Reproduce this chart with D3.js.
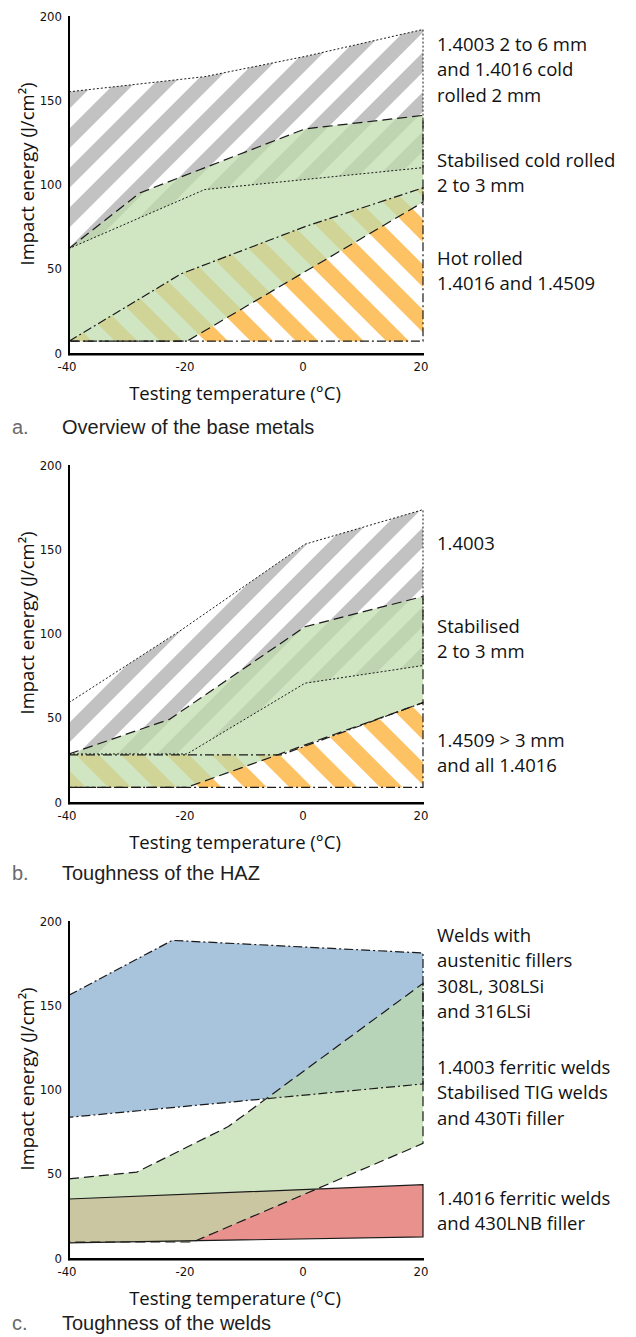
<!DOCTYPE html>
<html><head><meta charset="utf-8">
<script src="https://cdn.jsdelivr.net/npm/d3@7"></script>
<style>body{margin:0;background:#fff} svg{display:block}</style>
</head><body><svg id="c" width="636" height="1337"></svg>
<script>
// ---------- shared axis data ----------
const xTicks = [-40, -20, 0, 20];
const yTicks = [0, 50, 100, 150, 200];
const xTitle = "Testing temperature (°C)";
const yTitle = "Impact energy (J/cm²)";

// ---------- panel a: overview of the base metals ----------
const aGrayUpper   = [[-40,155],[-17,164],[0,176],[20,192]];
const aGrayLower   = [[-40,62],[-17,97],[20,110]];
const aGreenUpper  = [[-40,62],[-28,95],[0,133],[20,141]];
const aGreenLower  = [[-40,7],[-20,7],[20,89.5]];
const aOrangeUpper = [[-40,7],[-21,47],[0,75],[20,98]];
const aOrangeLower = [[-40,7],[20,7]];
const aLabels = [["1.4003 2 to 6 mm","and 1.4016 cold","rolled 2 mm"],["Stabilised cold rolled","2 to 3 mm"],["Hot rolled","1.4016 and 1.4509"]];
const aCaption = ["a.", "Overview of the base metals"];

// ---------- panel b: toughness of the HAZ ----------
const bGrayUpper   = [[-40,59],[-21,102],[0,153],[20,173.5]];
const bGrayLower   = [[-40,28.5],[-20,28.5],[0,70.5],[20,81]];
const bGreenUpper  = [[-40,28.5],[-23,49],[0,104],[20,122]];
const bGreenLower  = [[-40,8.7],[-20,8.7],[20,59]];
const bOrangeUpper = [[-40,28],[-4,28],[20,59]];
const bOrangeLower = [[-40,8.7],[20,8.7]];
const bLabels = [["1.4003"],["Stabilised","2 to 3 mm"],["1.4509 > 3 mm","and all 1.4016"]];
const bCaption = ["b.", "Toughness of the HAZ"];

// ---------- panel c: toughness of the welds ----------
const cBlueUpper  = [[-40,156],[-22.5,188.5],[20,181]];
const cBlueLower  = [[-40,83.5],[20,103.3]];
const cGreenUpper = [[-40,47],[-28.5,51],[-13,78],[20,163]];
const cGreenLower = [[-40,9.5],[-19,9.5],[20,68]];
const cRedUpper   = [[-40,35],[20,43.5]];
const cRedLower   = [[-40,9],[20,12.5]];
const cLabels = [["Welds with","austenitic fillers","308L, 308LSi","and 316LSi"],["1.4003 ferritic welds","Stabilised TIG welds","and 430Ti filler"],["1.4016 ferritic welds","and 430LNB filler"]];
const cCaption = ["c.", "Toughness of the welds"];

// ---------- styles ----------
const LABEL_FONT = "'Open Sans','Noto Sans',sans-serif";
const TICK_FONT = "'Liberation Sans Narrow','DejaVu Sans Condensed',sans-serif";
const CAP_FONT = "'Liberation Sans',Arial,sans-serif";
const dashes = { dotted: "2,2", dashed: "10,5", dashdot: "9,3,2,3", solid: null };

const svg = d3.select("#c");
const defs = svg.append("defs");
function stripes(id, color, period, angle) {
  const p = defs.append("pattern").attr("id", id).attr("patternUnits", "userSpaceOnUse")
    .attr("width", period).attr("height", period)
    .attr("patternTransform", `rotate(${angle})`);
  p.append("rect").attr("width", period / 2).attr("height", period).attr("fill", color);
}
stripes("grayHatch", "#c2c2c2", 28, 45);
stripes("orangeHatch", "#fdc263", 32, -45);

const x = d3.scaleLinear().domain([-40, 20]).range([69, 423]);

function panel(cfg) {
  const y = d3.scaleLinear().domain([0, 200]).range([cfg.y0, cfg.y0 - 337]);
  const g = svg.append("g");
  const line = d3.line().x(d => x(d[0])).y(d => y(d[1])).curve(d3.curveLinearClosed);
  const poly = r => r.upper.concat(r.lower.slice().reverse());

  cfg.regions.forEach(r => {
    g.append("path").attr("d", line(poly(r)))
      .attr("fill", r.fill).attr("fill-opacity", r.opacity || 1).attr("stroke", "none");
  });
  cfg.regions.forEach(r => {
    g.append("path").attr("d", line(poly(r)))
      .attr("fill", "none").attr("stroke", "#1a1a1a")
      .attr("stroke-width", r.style === "dotted" ? 1 : 1.2)
      .attr("stroke-dasharray", dashes[r.style]);
  });

  // axes
  g.append("line").attr("x1", x(-40)).attr("x2", x(-40))
    .attr("y1", y(200)).attr("y2", y(0) + 2.2).attr("stroke", "#000").attr("stroke-width", 2);
  g.append("line").attr("x1", x(-40) - 1).attr("x2", x(20) + 1)
    .attr("y1", y(0) + 1.2).attr("y2", y(0) + 1.2).attr("stroke", "#000").attr("stroke-width", 2.4);

  g.selectAll(".yt").data(yTicks).join("text")
    .attr("x", 62).attr("y", d => y(d)).attr("text-anchor", "end")
    .attr("dominant-baseline", "central").attr("font-family", TICK_FONT)
    .attr("font-size", 13).attr("fill", "#111").text(d => d);
  g.selectAll(".xt").data(xTicks).join("text")
    .attr("x", d => x(d) - 2).attr("y", y(0) + 13).attr("text-anchor", "middle")
    .attr("dominant-baseline", "central").attr("font-family", TICK_FONT)
    .attr("font-size", 13).attr("fill", "#111").text(d => d);

  g.append("text").attr("x", 235).attr("y", y(0) + 39).attr("text-anchor", "middle")
    .attr("dominant-baseline", "central").attr("font-family", LABEL_FONT)
    .attr("font-size", 18.5).attr("fill", "#111").text(xTitle);
  g.append("text").attr("transform", `translate(26,${y(0) - 179}) rotate(-90)`)
    .attr("text-anchor", "middle").attr("dominant-baseline", "central")
    .attr("font-family", LABEL_FONT).attr("font-size", 18.5).attr("fill", "#111").text(yTitle);

  // right-side labels
  cfg.labels.forEach((lines, i) => {
    lines.forEach((t, j) => {
      g.append("text").attr("x", 437).attr("y", cfg.y0 + cfg.labelY[i] + j * 25.5)
        .attr("dominant-baseline", "central").attr("font-family", LABEL_FONT)
        .attr("font-size", 18.5).attr("fill", "#111").text(t);
    });
  });

  // caption
  g.append("text").attr("x", 12).attr("y", cfg.y0 + cfg.capY).attr("dominant-baseline", "central")
    .attr("font-family", CAP_FONT).attr("font-size", 20).attr("fill", "#6a6a6a").text(cfg.caption[0]);
  g.append("text").attr("x", 62).attr("y", cfg.y0 + cfg.capY).attr("dominant-baseline", "central")
    .attr("font-family", CAP_FONT).attr("font-size", 20).attr("fill", "#1e1e1e").text(cfg.caption[1]);
}

const GREEN = "rgb(190,219,170)";
const GREEN_OP = 0.72;
panel({
  y0: 353, capY: 74, caption: aCaption, labels: aLabels, labelY: [-310, -194, -96],
  regions: [
    { upper: aGrayUpper, lower: aGrayLower, fill: "url(#grayHatch)", style: "dotted" },
    { upper: aOrangeUpper, lower: aOrangeLower, fill: "url(#orangeHatch)", style: "dashdot" },
    { upper: aGreenUpper, lower: aGreenLower, fill: GREEN, opacity: GREEN_OP, style: "dashed" }
  ]
});
panel({
  y0: 802, capY: 71, caption: bCaption, labels: bLabels, labelY: [-260, -177, -63],
  regions: [
    { upper: bGrayUpper, lower: bGrayLower, fill: "url(#grayHatch)", style: "dotted" },
    { upper: bOrangeUpper, lower: bOrangeLower, fill: "url(#orangeHatch)", style: "dashdot" },
    { upper: bGreenUpper, lower: bGreenLower, fill: GREEN, opacity: GREEN_OP, style: "dashed" }
  ]
});
panel({
  y0: 1258, capY: 65, caption: cCaption, labels: cLabels, labelY: [-324, -192, -61],
  regions: [
    { upper: cBlueUpper, lower: cBlueLower, fill: "#a8c3dc", style: "dashdot" },
    { upper: cRedUpper, lower: cRedLower, fill: "#e8918d", style: "solid" },
    { upper: cGreenUpper, lower: cGreenLower, fill: GREEN, opacity: GREEN_OP, style: "dashed" }
  ]
});
</script></body></html>
